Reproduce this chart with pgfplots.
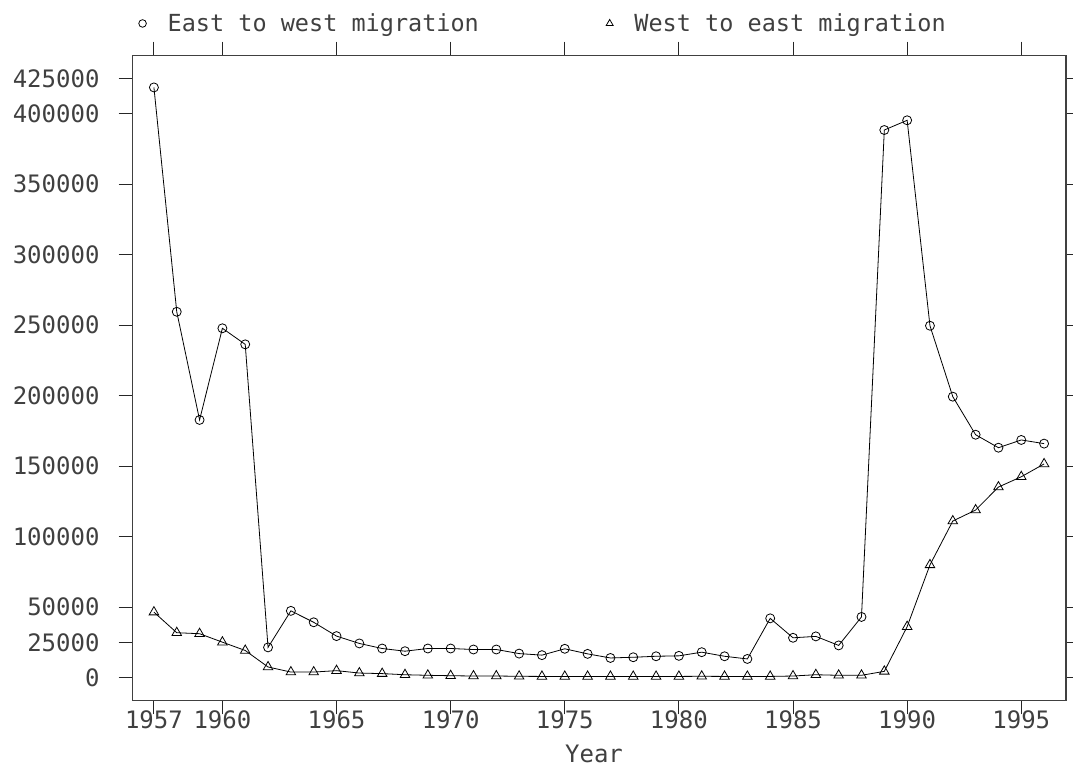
\documentclass[border=0pt]{standalone}
\usepackage{pgfplots}
\pgfplotsset{compat=1.18}
\usepackage{fontspec}
\setmainfont{DejaVu Sans Mono}
\pgfplotstableread{
year east west
1957 418600 46500
1958 259500 31900
1959 182800 31200
1960 247800 25200
1961 236400 19300
1962 21500 7600
1963 47400 4000
1964 39300 4000
1965 29500 5000
1966 24300 3300
1967 20700 2900
1968 18800 2100
1969 20700 1700
1970 20700 1400
1971 20000 1200
1972 20000 1200
1973 17100 1000
1974 16000 900
1975 20500 900
1976 16900 900
1977 14000 900
1978 14500 900
1979 15200 900
1980 15500 900
1981 18100 1000
1982 15200 900
1983 13300 900
1984 42100 900
1985 28300 1200
1986 29300 2100
1987 22900 1700
1988 43100 1700
1989 388400 4500
1990 395300 36200
1991 249600 80000
1992 199300 111100
1993 172300 118900
1994 163100 135200
1995 168600 142500
1996 166000 151600
}\migration
\begin{document}
\begin{tikzpicture}
\path[use as bounding box] (-132.7pt,-71.7pt) rectangle (940.3pt,700.3pt);
\begin{axis}[
  at={(0pt,0pt)}, anchor=south west,
  scale only axis, width=933.3pt, height=644.6pt,
  xmin=1956.07, xmax=1996.96,
  ymin=-16030, ymax=441100,
  scaled x ticks=false, scaled y ticks=false,
  xtick={1957,1960,1965,1970,1975,1980,1985,1990,1995},
  xticklabels={1957,1960,1965,1970,1975,1980,1985,1990,1995},
  ytick={0,25000,50000,100000,150000,200000,250000,300000,350000,400000,425000},
  yticklabels={0,25000,50000,100000,150000,200000,250000,300000,350000,400000,425000},
  tick align=outside,
  major tick length=14pt,
  every tick/.style={black!85, line width=0.9pt},
  axis line style={black!75, line width=1.2pt},
  tick label style={font=\fontsize{24}{24}\selectfont, text=black!75},
  xticklabel style={inner sep=0pt, yshift=4pt},
  yticklabel style={inner sep=0pt, xshift=-19pt},
  xlabel={Year},
  xlabel style={font=\fontsize{24}{24}\selectfont, text=black!75, at={(axis description cs:0.4943,-0.0825)}, anchor=center},
  legend columns=2,
  legend style={draw=none, fill=none, inner sep=0pt, outer sep=0pt,
    at={(axis description cs:0.0065,1.05)}, anchor=west,
    font=\fontsize{23.5}{23.5}\selectfont, text=black!75,
    nodes={inner sep=0pt},
    /tikz/every odd column/.append style={column sep=21.3pt},
    /tikz/every even column/.append style={column sep=127.3pt}},
]
\addlegendimage{only marks, mark=o, mark size=3.8pt, black, line width=0.8pt}
\addlegendentry{East to west migration}
\addlegendimage{only marks, mark=triangle, mark size=4pt, black, line width=0.8pt}
\addlegendentry{West to east migration}
\addplot[black, line width=0.8pt, mark=o, mark size=4.5pt, forget plot] table[x=year, y=east] {\migration};
\addplot[black, line width=0.8pt, mark=triangle, mark size=5.5pt, forget plot] table[x=year, y=west] {\migration};
\end{axis}
\end{tikzpicture}
\end{document}
